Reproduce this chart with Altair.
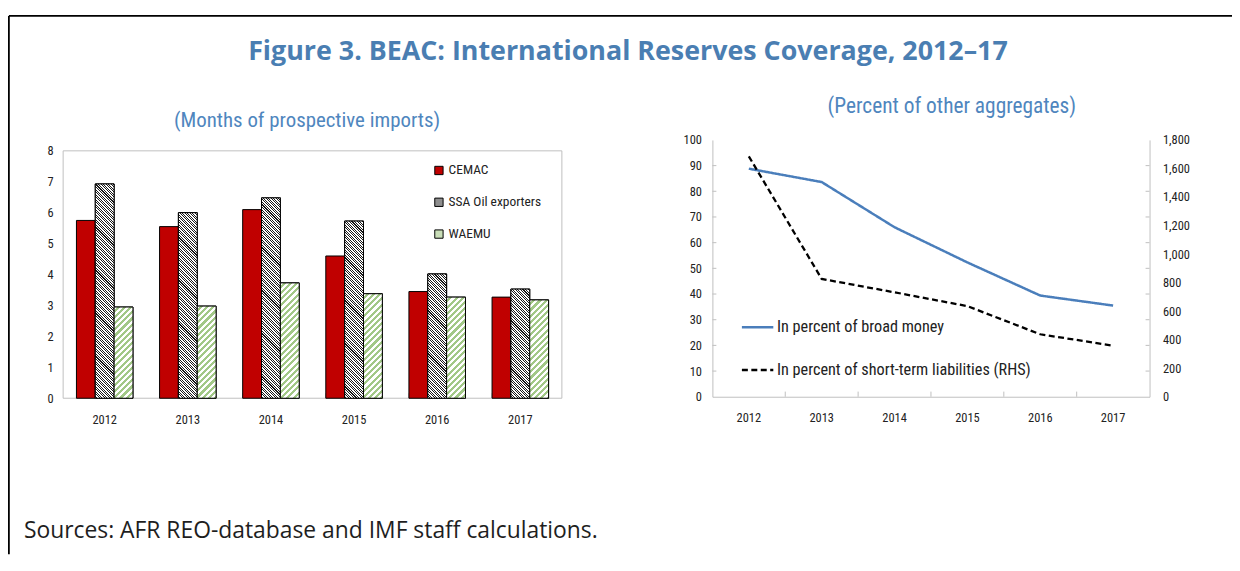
import math
import altair as alt
import pandas as pd

# ---------------- data ----------------
years = ["2012", "2013", "2014", "2015", "2016", "2017"]
series_names = ["CEMAC", "SSA Oil exporters", "WAEMU"]
cemac = [5.75, 5.55, 6.10, 4.60, 3.45, 3.27]
ssa_oil = [6.93, 6.00, 6.48, 5.73, 4.02, 3.53]
waemu = [2.95, 2.98, 3.73, 3.38, 3.27, 3.18]
left_ticks = [0, 1, 2, 3, 4, 5, 6, 7, 8]

measures = ["In percent of broad money", "In percent of short-term liabilities (RHS)"]
broad_money = [88.8, 83.6, 66.0, 52.3, 39.4, 35.5]
short_term = [1685, 826, 732, 635, 438, 358]
right_ticks_l = [0, 10, 20, 30, 40, 50, 60, 70, 80, 90, 100]
right_ticks_r = [0, 200, 400, 600, 800, 1000, 1200, 1400, 1600, 1800]
inner_years = ["2013", "2014", "2015", "2016", "2017"]

title_text = "Figure 3. BEAC: International Reserves Coverage, 2012\u201317"
sub_left = "(Months of prospective imports)"
sub_right = "(Percent of other aggregates)"
source_text = "Sources: AFR REO-database and IMF staff calculations."

# ---------------- layout ----------------
W, H = 1232, 548
L_X0, L_X1, L_Y0, L_Y1 = 55.5, 557.5, 391.0, 142.0
R_X0, R_X1, R_Y0, R_Y1 = 709.0, 1149.0, 389.5, 131.0
P_IN, P_OUT = 0.32, 0.16

FONT = "Liberation Sans Narrow, Roboto Condensed, DejaVu Sans Condensed, Roboto, sans-serif"
TFONT = "Open Sans"
BLUE_T = "#4A7EB2"
AXC = "#BFBFBF"
TXT = "#222222"

bar_df = pd.DataFrame({
    "year": years * 3,
    "series": [s for s in series_names for _ in years],
    "value": cemac + ssa_oil + waemu,
})
line_df = pd.DataFrame({
    "year": years * 2,
    "measure": [m for m in measures for _ in years],
    "value": broad_money + short_term,
})
one = pd.DataFrame({"k": [0]})
xtick_df = pd.DataFrame({"year": inner_years})
ytick_df = pd.DataFrame({"v": right_ticks_l[1:-1]})

# ---------------- hatch fills (stripe gradients) ----------------
step = (L_X1 - L_X0) / (len(years) - P_IN + 2 * P_OUT)
bar_w = step * (1 - P_IN) / len(series_names)


def stripes(w, h, back, period, ink, paper, ink_frac):
    r = h / w
    k = (1 + r) / (1 + r * r)
    if back:  # "\" stripes
        x1, y1, x2, y2 = 0, 1, k, 1 - k * r
    else:  # "/" stripes
        x1, y1, x2, y2 = 0, 0, k, k * r
    n = (w + h) / math.sqrt(2) / period
    stops = []
    i = 0
    while i / n < 1:
        a = i / n
        m = min(1.0, (i + 1 - ink_frac) / n)
        c = min(1.0, (i + 1) / n)
        stops += [(a, paper), (m, paper), (m, ink), (c, ink)]
        i += 1
    gs = [alt.GradientStop(offset=round(o, 5), color=col) for o, col in stops]
    return alt.LinearGradient(gradient="linear", stops=gs,
                              x1=round(x1, 5), y1=round(y1, 5),
                              x2=round(x2, 5), y2=round(y2, 5))


# ---------------- left panel ----------------
xl_scale = alt.Scale(domain=years, range=[L_X0, L_X1], paddingInner=P_IN, paddingOuter=P_OUT)
xl_axis = alt.Axis(orient="bottom", offset=L_Y0 - H, title=None, labelAngle=0, ticks=False,
                   domain=False, labelPadding=15, labelFontSize=12.5, labelFont=FONT,
                   labelColor=TXT)
xl = alt.X("year:O", scale=xl_scale, axis=xl_axis)
xo = alt.XOffset("series:N", scale=alt.Scale(domain=series_names))
yl_scale = alt.Scale(domain=[0, 8], range=[L_Y0, L_Y1], nice=False)
yl_axis = alt.Axis(orient="left", offset=-L_X0, title=None, values=left_ticks, format="d",
                   ticks=False, domain=False, grid=False, labelPadding=10, labelFontSize=12.5,
                   labelFont=FONT, labelColor=TXT)
yl = alt.Y("value:Q", scale=yl_scale, axis=yl_axis)

base_bars = alt.Chart(bar_df).mark_bar(stroke="black", strokeWidth=1).encode(
    x=xl, xOffset=xo, y=yl,
    fill=alt.Fill("series:N",
                  scale=alt.Scale(domain=series_names, range=["#C00000", "#8E8E8E", "#C9DEB8"]),
                  legend=alt.Legend(orient="none", legendX=427, legendY=155, title=None,
                                    symbolType="square", symbolSize=70, symbolStrokeColor="black",
                                    symbolStrokeWidth=1, labelFontSize=13.5, labelFont=FONT,
                                    labelColor=TXT, rowPadding=17, labelOffset=3, padding=0)),
)

left_layers = [base_bars]
for i, yr in enumerate(years):
    for s, vals, back, period, ink, frac in [
        ("SSA Oil exporters", ssa_oil, True, 1.8, "#1a1a1a", 0.42),
        ("WAEMU", waemu, False, 4.4, "#A2C887", 0.5),
    ]:
        hpx = vals[i] / 8 * (L_Y0 - L_Y1)
        grad = stripes(bar_w, hpx, back, period, ink, "#FFFFFF", frac)
        lay = alt.Chart(bar_df).transform_filter(
            (alt.datum.series == s) & (alt.datum.year == yr)
        ).mark_bar(fill=grad, stroke="black", strokeWidth=1).encode(x=xl, xOffset=xo, y=yl)
        left_layers.append(lay)

left_xticks = alt.Chart(xtick_df).mark_rule(color=AXC, strokeWidth=1).encode(
    x=alt.X("year:O", scale=xl_scale, bandPosition=0, axis=xl_axis),
    y=alt.Y("k0:Q", scale=yl_scale, axis=yl_axis), y2=alt.Y2("k1:Q")
).transform_calculate(k0="0", k1="0.16")

left_box = alt.Chart(one).mark_rect(fill=None, stroke=AXC, strokeWidth=1).encode(
    x=alt.value(L_X0), x2=alt.value(L_X1), y=alt.value(L_Y1), y2=alt.value(L_Y0))

left_panel = alt.layer(left_box, left_xticks, *left_layers)

# ---------------- right panel ----------------
xr_scale = alt.Scale(domain=years, range=[R_X0, R_X1], paddingInner=0, paddingOuter=0)
xr_axis = alt.Axis(orient="bottom", offset=R_Y0 - H, title=None, labelAngle=0, ticks=False,
                   domainColor=AXC, labelPadding=15, labelFontSize=12.5, labelFont=FONT,
                   labelColor=TXT)
xr = alt.X("year:O", scale=xr_scale, axis=xr_axis)
yr_scale_l = alt.Scale(domain=[0, 100], range=[R_Y0, R_Y1], nice=False)
yr_axis_l = alt.Axis(orient="left", offset=-R_X0, title=None, values=right_ticks_l,
                     ticks=False, domainColor=AXC, grid=False, labelPadding=11,
                     labelFontSize=12.5, labelFont=FONT, labelColor=TXT)
leg_r = alt.Legend(orient="none", legendX=737, legendY=302, title=None, symbolType="stroke",
                   symbolSize=1000, symbolStrokeWidth=2.5, labelFontSize=16.3, labelFont=FONT,
                   labelColor=TXT, rowPadding=17, labelOffset=2, padding=0, labelLimit=400)
stroke_enc = alt.Stroke("measure:N", scale=alt.Scale(domain=measures, range=["#4A7EBB", "#000000"]),
                        legend=leg_r)
dash_enc = alt.StrokeDash("measure:N", scale=alt.Scale(domain=measures, range=[[1, 0], [6, 3.5]]),
                          legend=leg_r)

line_bm = alt.Chart(line_df).transform_filter(alt.datum.measure == measures[0]).mark_line(
    strokeWidth=2.5).encode(
    x=xr,
    y=alt.Y("value:Q", scale=yr_scale_l, axis=yr_axis_l),
    stroke=stroke_enc, strokeDash=dash_enc,
)
line_st = alt.Chart(line_df).transform_filter(alt.datum.measure == measures[1]).mark_line(
    strokeWidth=2.3).encode(
    x=xr,
    y=alt.Y("value:Q", scale=alt.Scale(domain=[0, 1800], range=[R_Y0, R_Y1], nice=False),
            axis=alt.Axis(orient="right", offset=R_X1 - W, title=None, values=right_ticks_r,
                          format=",d", ticks=False, domainColor=AXC, grid=False, labelPadding=13,
                          labelFontSize=12.5, labelFont=FONT, labelColor=TXT)),
    stroke=stroke_enc, strokeDash=dash_enc,
)
right_xticks = alt.Chart(xtick_df).mark_rule(color=AXC, strokeWidth=1).encode(
    x=alt.X("year:O", scale=xr_scale, bandPosition=0, axis=xr_axis),
    y=alt.Y("k0:Q", scale=yr_scale_l, axis=None), y2=alt.Y2("k1:Q")
).transform_calculate(k0="0", k1="2")
right_yticks_l = alt.Chart(ytick_df).mark_rule(color=AXC, strokeWidth=1).encode(
    y=alt.Y("v:Q", scale=yr_scale_l, axis=None), x=alt.value(R_X0), x2=alt.value(R_X0 + 4))
right_yticks_r = alt.Chart(ytick_df).mark_rule(color=AXC, strokeWidth=1).encode(
    y=alt.Y("v:Q", scale=yr_scale_l, axis=None), x=alt.value(R_X1 - 4), x2=alt.value(R_X1))

right_panel = alt.layer(right_xticks, right_yticks_l, right_yticks_r, line_bm, line_st
                        ).resolve_scale(y="independent")

# ---------------- texts & frame ----------------
def label(txt, x, y, size, font, color, bold=False, align="center"):
    return alt.Chart(pd.DataFrame({"t": [txt]})).mark_text(
        fontSize=size, font=font, color=color, fontWeight="bold" if bold else "normal",
        align=align, baseline="middle").encode(text="t:N", x=alt.value(x), y=alt.value(y))


texts = [
    label(title_text, 624, 43, 27, TFONT, BLUE_T, bold=True),
    label(sub_left, 301, 112, 21, FONT, "#4F86BE"),
    label(sub_right, 950, 98, 21.5, FONT, "#4F86BE"),
    label(source_text, 16, 525, 23, TFONT, "#1E1E1E", align="left"),
]
frame_v = alt.Chart(one).mark_rule(color="black", strokeWidth=1.8).encode(
    x=alt.value(0.9), y=alt.value(6.2), y2=alt.value(H))
frame_h = alt.Chart(one).mark_rule(color="black", strokeWidth=1.8).encode(
    x=alt.value(0.9), x2=alt.value(W), y=alt.value(6.2))

chart = alt.layer(frame_v, frame_h, *texts, left_panel, right_panel).resolve_scale(
    x="independent", y="independent"
).properties(
    width=W, height=H, autosize=alt.AutoSizeParams(type="none"), padding=0
).configure_view(stroke=None)

chart.save("out.html", embed_options={"renderer": "svg", "actions": False})
